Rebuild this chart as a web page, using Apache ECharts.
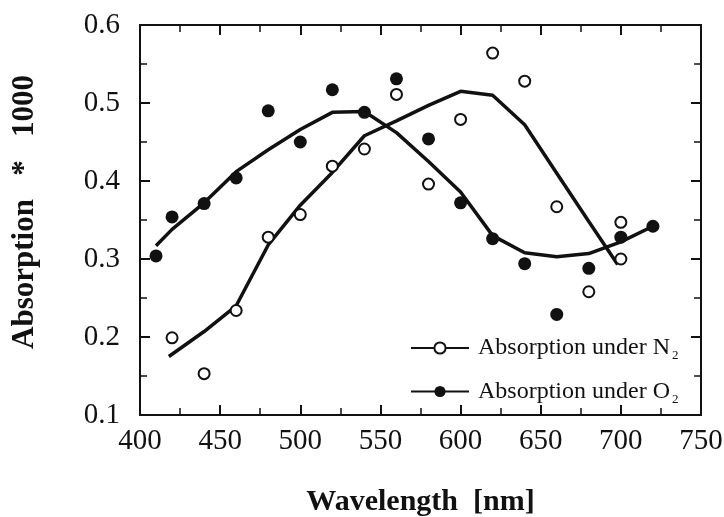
<html>
<head>
<meta charset="utf-8">
<title>Absorption</title>
<script src="https://cdn.jsdelivr.net/npm/echarts@6/dist/echarts.min.js"></script>
<style>
  html, body { margin: 0; padding: 0; background: #fff; }
  #main { width: 724px; height: 517px; }
</style>
</head>
<body>
<div id="main"></div>
<script>
// data
var n2X = [420, 440, 460, 480, 500, 520, 540, 560, 580, 600, 620, 640, 660, 680, 700, 700]
var n2Y = [0.199, 0.153, 0.234, 0.328, 0.357, 0.419, 0.441, 0.511, 0.396, 0.479, 0.564, 0.528, 0.367, 0.258, 0.347, 0.300]
var o2X = [410, 420, 440, 460, 480, 500, 520, 540, 560, 580, 600, 620, 640, 660, 680, 700, 720]
var o2Y = [0.304, 0.354, 0.371, 0.404, 0.490, 0.450, 0.517, 0.488, 0.531, 0.454, 0.372, 0.326, 0.294, 0.229, 0.288, 0.328, 0.342]
// fitted curves
var n2FitX = [418, 440, 460, 480, 500, 520, 540, 560, 580, 600, 620, 640, 660, 680, 698]
var n2FitY = [0.175, 0.207, 0.240, 0.318, 0.369, 0.411, 0.458, 0.477, 0.497, 0.515, 0.510, 0.472, 0.410, 0.348, 0.293]
var o2FitX = [410, 420, 440, 460, 480, 500, 520, 540, 560, 580, 600, 620, 640, 660, 680, 700, 720]
var o2FitY = [0.317, 0.338, 0.372, 0.412, 0.440, 0.466, 0.488, 0.489, 0.462, 0.425, 0.386, 0.330, 0.308, 0.303, 0.307, 0.322, 0.342]
var xTicks = [400, 750, 50]
var yTicks = [0.1, 0.6, 0.1]

function pairs(xs, ys) {
    return xs.map((x, i) => [x, ys[i]])
}

var FONT = '"Liberation Serif", "DejaVu Serif", serif'
var INK = '#111'

var chart = echarts.init(document.getElementById('main'), null, { renderer: 'canvas' })

var axisLine = { show: true, lineStyle: { color: INK, width: 2 } }
var ticks = { inside: true, length: 10, lineStyle: { color: INK, width: 2 } }
var minor = { show: true, splitNumber: 2, length: 7, lineStyle: { color: INK, width: 1.5 } }

var option = {
    backgroundColor: '#fff',
    animation: false,
    grid: { left: 140, right: 23, top: 25, bottom: 102, containLabel: false, outerBoundsMode: 'none' },
    legend: {
        left: 405,
        top: 331,
        orient: 'vertical',
        itemGap: 17,
        itemWidth: 58,
        itemHeight: 14,
        data: ['N2', 'O2'],
        formatter: name => `{a|Absorption under ${name[0]}}{s|2}`,
        textStyle: {
            fontFamily: FONT,
            color: INK,
            padding: [0, 0, 0, 4],
            rich: {
                a: { fontFamily: FONT, fontSize: 24, color: INK },
                s: { fontFamily: FONT, fontSize: 13, color: INK, verticalAlign: 'bottom', padding: [16, 0, 0, 2] }
            }
        }
    },
    xAxis: [{
        type: 'value',
        min: xTicks[0], max: xTicks[1], interval: xTicks[2],
        name: 'Wavelength  [nm]',
        nameLocation: 'middle',
        nameGap: 72,
        nameTextStyle: { fontFamily: FONT, fontSize: 30, fontWeight: 'bold', color: INK },
        axisLine: axisLine,
        axisTick: ticks,
        minorTick: minor,
        axisLabel: { margin: 12, fontFamily: FONT, fontSize: 29, color: INK },
        splitLine: { show: false }
    }, {
        type: 'value', position: 'top',
        min: xTicks[0], max: xTicks[1], interval: xTicks[2],
        axisLine: axisLine,
        axisTick: ticks,
        minorTick: minor,
        axisLabel: { show: false },
        splitLine: { show: false }
    }],
    yAxis: [{
        type: 'value',
        min: yTicks[0], max: yTicks[1], interval: yTicks[2],
        name: 'Absorption   *   1000',
        nameLocation: 'middle',
        nameGap: 100,
        nameRotate: 90,
        nameTextStyle: { fontFamily: FONT, fontSize: 31, fontWeight: 'bold', color: INK, padding: [0, 0, 0, 16] },
        axisLine: axisLine,
        axisTick: ticks,
        minorTick: minor,
        axisLabel: { margin: 20, fontFamily: FONT, fontSize: 29, color: INK, formatter: v => v.toFixed(1) },
        splitLine: { show: false }
    }, {
        type: 'value', position: 'right',
        min: yTicks[0], max: yTicks[1], interval: yTicks[2],
        axisLine: axisLine,
        axisTick: ticks,
        minorTick: minor,
        axisLabel: { show: false },
        splitLine: { show: false }
    }],
    series: [{
        name: 'N2',
        type: 'line',
        data: pairs(n2FitX, n2FitY),
        showSymbol: false,
        symbol: 'circle',
        symbolSize: 10,
        itemStyle: { color: '#fff', borderColor: INK, borderWidth: 2 },
        lineStyle: { color: INK, width: 3.5 },
        z: 2
    }, {
        name: 'O2',
        type: 'line',
        data: pairs(o2FitX, o2FitY),
        showSymbol: false,
        symbol: 'circle',
        symbolSize: 11,
        itemStyle: { color: INK },
        lineStyle: { color: INK, width: 3.5 },
        z: 2
    }, {
        name: 'N2 points',
        type: 'scatter',
        data: pairs(n2X, n2Y),
        symbol: 'circle',
        symbolSize: 11,
        itemStyle: { color: '#fff', borderColor: INK, borderWidth: 2, opacity: 1 },
        z: 3
    }, {
        name: 'O2 points',
        type: 'scatter',
        data: pairs(o2X, o2Y),
        symbol: 'circle',
        symbolSize: 13,
        itemStyle: { color: INK, opacity: 1 },
        z: 3
    }]
}

chart.setOption(option)
</script>
</body>
</html>
